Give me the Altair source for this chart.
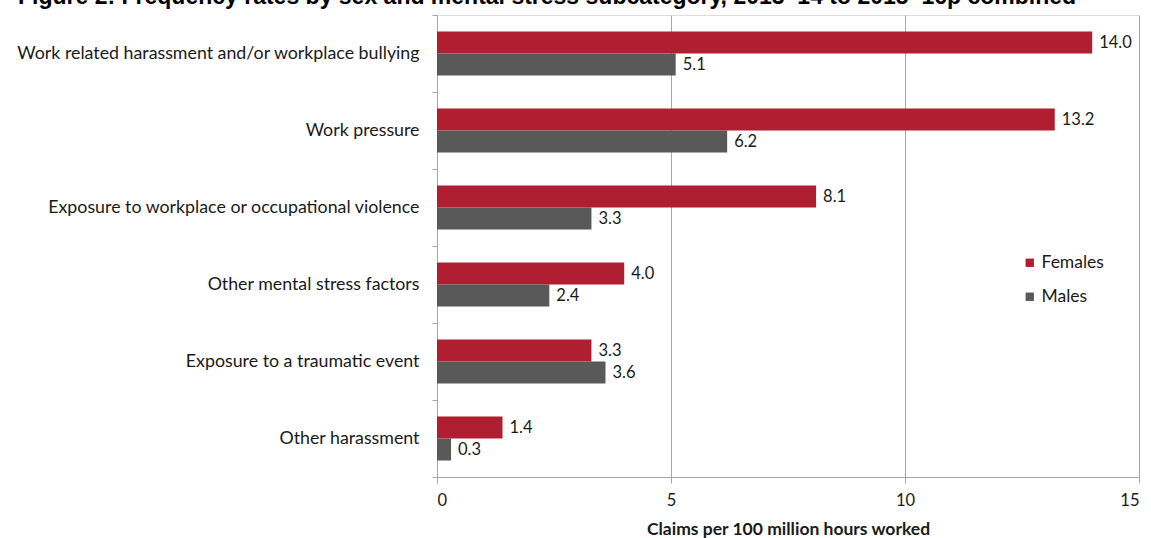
import altair as alt
import pandas as pd

title_text = "Figure 2: Frequency rates by sex and mental stress subcategory, 2013–14 to 2015–16p combined"
categories = [
    "Work related harassment and/or workplace bullying",
    "Work pressure",
    "Exposure to workplace or occupational violence",
    "Other mental stress factors",
    "Exposure to a traumatic event",
    "Other harassment",
]
females = [14.0, 13.2, 8.1, 4.0, 3.3, 1.4]
males = [5.1, 6.2, 3.3, 2.4, 3.6, 0.3]
sexes = ["Females", "Males"]
colors = ["#B01F31", "#595959"]
x_ticks = [0, 5, 10, 15]
x_title = "Claims per 100 million hours worked"

rows = []
for c, f, m in zip(categories, females, males):
    rows.append({"cat": c, "sex": "Females", "value": f})
    rows.append({"cat": c, "sex": "Males", "value": m})
df = pd.DataFrame(rows)
df["label"] = df["value"].map(lambda v: f"{v:.1f}")

FONT = "Lato"
GRAY = "#a6a6a6"
TXT = "#1a1a1a"

y = alt.Y(
    "cat:N",
    sort=categories,
    scale=alt.Scale(paddingInner=0, paddingOuter=0),
    axis=alt.Axis(
        title=None, tickBand="extent", labelFont=FONT, labelFontSize=17.8,
        labelColor=TXT, labelPadding=13, tickSize=5, tickColor=GRAY,
        domainColor=GRAY, labelLimit=600,
    ),
)
yoff = alt.YOffset("sex:N", sort=sexes, scale=alt.Scale(paddingOuter=0.75, paddingInner=0))
x = alt.X(
    "value:Q",
    scale=alt.Scale(domain=[0, 15], nice=False, zero=True),
    axis=alt.Axis(
        values=x_ticks, title=x_title, grid=True, gridColor=GRAY, domainColor=GRAY,
        tickColor=GRAY, tickSize=6, labelFont=FONT, labelFontSize=16.5, labelColor=TXT,
        labelPadding=9, titleFont=FONT, titleFontSize=17.5, titleFontWeight="bold",
        titleColor=TXT, titlePadding=12, format="d",
    ),
)
color = alt.Color(
    "sex:N",
    scale=alt.Scale(domain=sexes, range=colors),
    legend=alt.Legend(
        title=None, orient="none", legendX=584, legendY=239, symbolType="square",
        symbolSize=70, labelFont=FONT, labelFontSize=17.5, labelColor=TXT,
        rowPadding=15, symbolStrokeWidth=0, labelOffset=3,
    ),
)

base = alt.Chart(df)
bars = base.mark_bar().encode(x=x, y=y, yOffset=yoff, color=color)
labels = base.mark_text(align="left", baseline="middle", dx=7, font=FONT, fontSize=16.5, color=TXT).encode(
    x="value:Q", y=alt.Y("cat:N", sort=categories), yOffset=alt.YOffset("sex:N", sort=sexes), text="label:N"
)
title = alt.Chart(pd.DataFrame({"t": [title_text]})).mark_text(
    align="left", baseline="alphabetic", font="Liberation Sans", fontWeight="bold", fontSize=23, color="#000000"
).encode(x=alt.value(-419), y=alt.value(-11), text="t:N")

chart = (
    alt.layer(bars, labels, title)
    .properties(
        width=702, height=462,
        autosize=alt.AutoSizeParams(type="none"),
        padding={"left": 437, "top": 15, "right": 12, "bottom": 61},
    )
    .configure_view(stroke=GRAY, strokeWidth=1)
    .configure(background="white")
)
chart.save("out.html", embed_options={"renderer": "svg", "actions": False})
